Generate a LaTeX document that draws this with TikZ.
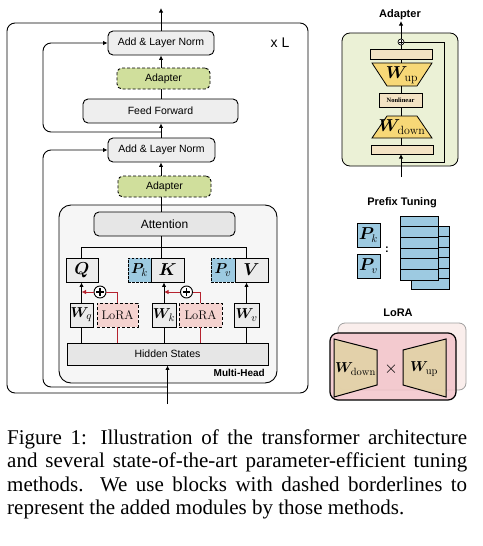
\documentclass[tikz,border=0pt]{standalone}
\usepackage{fontspec}
\usepackage{amsmath,bm}
\usetikzlibrary{arrows.meta}
\newfontfamily\hel{Liberation Sans}
\newfontfamily\tms{Liberation Serif}
\definecolor{boxgray}{HTML}{EEEEEE}
\definecolor{attgray}{HTML}{E6E6E6}
\definecolor{sqgray}{HTML}{EBEBEB}
\definecolor{mhgray}{HTML}{F6F6F6}
\definecolor{adgreen}{HTML}{D0DF9C}
\definecolor{lpink}{HTML}{F5D3D0}
\definecolor{pblue}{HTML}{9DCAE1}
\definecolor{apgreen}{HTML}{EBF1D6}
\definecolor{beige}{HTML}{F3E3C4}
\definecolor{ayellow}{HTML}{F7D877}
\definecolor{lorafr}{HTML}{F2C4CA}
\definecolor{lorabk}{HTML}{FAEEEC}
\definecolor{ltan}{HTML}{E2D2A6}
\definecolor{myred}{HTML}{B5232F}
\begin{document}
\begin{tikzpicture}[x=1pt,y=-1pt,
  ln/.style={line width=0.9pt},
  arr/.style={line width=0.9pt,-{Latex[length=4.5pt,width=4.5pt]}},
  rarr/.style={line width=0.9pt,draw=myred,-{Latex[length=4.5pt,width=4.5pt]}},
  gbox/.style={draw,line width=0.9pt,rounded corners=5pt,fill=boxgray,inner sep=0pt,
     font=\hel\fontsize{10.5}{12}\selectfont,minimum height=24pt},
  adbox/.style={gbox,dash pattern=on 3pt off 2pt,fill=adgreen,minimum height=21pt},
  sq/.style={draw,line width=0.9pt,fill=sqgray,inner sep=0pt,minimum height=24pt,
     font=\fontsize{15}{16}\selectfont},
  pbox/.style={sq,dash pattern=on 2.5pt off 1.5pt,fill=pblue},
  lbox/.style={sq,dash pattern=on 3pt off 2pt,fill=lpink,font=\fontsize{12.5}{14}\selectfont},
  plus/.style={circle,draw,line width=0.9pt,fill=white,minimum size=12pt,inner sep=0pt},
  ttl/.style={font=\hel\bfseries\fontsize{11}{13}\selectfont,inner sep=0pt},
  captxt/.style={anchor=base west,inner sep=0pt,font=\tms\fontsize{21}{23}\selectfont},
  abar/.style={draw,line width=0.8pt,fill=beige,inner sep=0pt},
  trap/.style={draw,line width=0.8pt,fill=ayellow},
  ltrap/.style={draw,line width=1pt,fill=ltan,fill opacity=0.9}
]
\useasboundingbox (0,0) rectangle (482,546);

% ---------- transformer block ----------
\draw[line width=0.9pt,rounded corners=8pt] (7,23) rectangle (308,393);
\draw[line width=0.9pt,rounded corners=12pt,fill=mhgray] (59,205) rectangle (277,383);

\coordinate (col) at (161,0);
\node[gbox,minimum width=106pt] (an1) at (161,43) {Add \& Layer Norm};
\node[adbox,minimum width=93pt] (ad1) at (163.5,78.5) {Adapter};
\node[gbox,minimum width=155pt] (ff) at (160.5,111) {Feed Forward};
\node[gbox,minimum width=107pt] (an2) at (161.5,150) {Add \& Layer Norm};
\node[adbox,minimum width=93pt] (ad2) at (164.5,186.5) {Adapter};
\node[gbox,fill=attgray,minimum width=141pt,font=\hel\fontsize{12}{14}\selectfont] (att) at (164.5,224) {Attention};
\node[font=\hel\fontsize{14}{16}\selectfont,inner sep=0pt] (xl) at (280,43) {x L};
\node[font=\hel\bfseries\fontsize{10}{12}\selectfont,inner sep=0pt,anchor=east] (mh) at (265,373) {Multi-Head};

\node[sq,minimum width=32pt,font=\fontsize{16}{17}\selectfont] (q) at (82,270) {$\bm{Q}$};
\node[pbox,minimum width=23pt] (pk) at (139.5,270) {$\bm{P}_{k}$};
\node[sq,minimum width=33pt,font=\fontsize{16}{17}\selectfont] (k) at (167.5,270) {$\bm{K}$};
\node[pbox,minimum width=24pt] (pv) at (223,270) {$\bm{P}_{v}$};
\node[sq,minimum width=33pt,font=\fontsize{16}{17}\selectfont] (v) at (251.5,270) {$\bm{V}$};

\node[sq,minimum width=23pt] (wq) at (81.5,315) {$\bm{W}_{q}$};
\node[lbox,minimum width=41pt] (lo1) at (117.5,315) {LoRA};
\node[sq,minimum width=24pt] (wk) at (164,315) {$\bm{W}_{k}$};
\node[lbox,minimum width=43pt] (lo2) at (200.5,315) {LoRA};
\node[sq,minimum width=25pt] (wv) at (246.5,315) {$\bm{W}_{v}$};
\node[sq,fill=attgray,minimum width=201pt,minimum height=22pt,font=\hel\fontsize{10.5}{12}\selectfont] (hs) at (167.5,354) {Hidden States};

\node[plus] (p1) at (100,292) {};
\node[plus] (p2) at (186.5,292) {};
\foreach \p in {p1,p2}{
  \draw[line width=1.2pt] (\p.center) ++(-3.6,0) -- ++(7.2,0);
  \draw[line width=1.2pt] (\p.center) ++(0,-3.6) -- ++(0,7.2);
}

% main column
\draw[arr] (col |- an1.north) -- (161,8);
\draw[arr] (col |- ad1.north) -- (col |- an1.south);
\draw[ln] (col |- ff.north) -- (col |- ad1.south);
\draw[arr] (col |- an2.north) -- (col |- ff.south);
\draw[arr] (col |- ad2.north) -- (col |- an2.south);
\draw[ln] (col |- att.north) -- (col |- ad2.south);
\coordinate (rb1) at (161,132);
\draw[arr,rounded corners=8pt] (rb1) -- (43,132) -- (43,43) -- (an1.west);
\coordinate (in) at (167.5,404);
\coordinate (br) at (167.5,387);
\draw[arr] (in) -- (hs.south);
\draw[arr,rounded corners=8pt] (br) -- (43,387) -- (43,150) -- (an2.west);

% attention fan-out
\coordinate (hbar) at (0,247);
\draw[ln] (col |- att.south) -- (col |- k.north);
\draw[ln] (wq |- q.north) -- (wq |- hbar) -- (wv |- hbar) -- (wv |- v.north);

% projections
\draw[ln] (wq |- hs.north) -- (wq.south);
\draw[arr] (wq.north) -- (wq |- q.south);
\draw[ln] (wk |- hs.north) -- (wk.south);
\draw[arr] (wk.north) -- (wk |- k.south);
\draw[ln] (wv |- hs.north) -- (wv.south);
\draw[arr] (wv.north) -- (wv |- v.south);

% LoRA branches
\draw[ln,myred] (lo1 |- hs.north) -- (lo1.south);
\draw[ln,myred] (lo1.north) |- (p1.east);
\draw[rarr] (p1.west) -- (wq |- p1);
\draw[ln,myred] (lo2 |- hs.north) -- (lo2.south);
\draw[ln,myred] (lo2.north) |- (p2.east);
\draw[rarr] (p2.west) -- (wk |- p2);

% ---------- Adapter panel ----------
\node[ttl] (tad) at (400,15) {Adapter};
\draw[line width=0.8pt,rounded corners=8pt,fill=apgreen] (342,33) rectangle (458,166);
\node[circle,draw,line width=0.7pt,fill=white,minimum size=6pt,inner sep=0pt] (apl) at (401,42) {};
\draw[line width=0.6pt] (apl.center) ++(-2,0) -- ++(4,0);
\draw[line width=0.6pt] (apl.center) ++(0,-2) -- ++(0,4);
\node[abar,minimum width=62pt,minimum height=10pt] (atop) at (401,54) {};
\draw[trap] (372,63) -- (432,63) -- (417,86) -- (387,86) -- cycle;
\node[inner sep=0pt,font=\fontsize{17}{18}\selectfont] (wupl) at (402,75) {$\bm{W}_{\mathrm{up}}$};
\node[abar,minimum width=43pt,minimum height=14pt,font=\tms\bfseries\fontsize{6.5}{7}\selectfont] (nl) at (400.5,100) {Nonlinear};
\draw[trap] (387,116) -- (417,116) -- (432,138) -- (372,138) -- cycle;
\node[inner sep=0pt,font=\fontsize{17}{18}\selectfont] (wdnl) at (402,127) {$\bm{W}_{\mathrm{down}}$};
\node[abar,minimum width=62pt,minimum height=9pt] (abot) at (402,149.5) {};
\coordinate (ain) at (401,177);
\coordinate (abr) at (401,162);
\draw[arr] (ain) -- (401,154);
\draw[line width=0.7pt] (abr) -- (444,162) -- (444,42) -- (apl.east);
\draw[line width=0.8pt] (401,145) -- (401,138) (401,116) -- (401,107) (401,93) -- (401,86) (401,63) -- (401,59) (401,49) -- (apl.south);
\draw[arr] (apl.north) -- (401,21);

% ---------- Prefix tuning panel ----------
\node[ttl] (tpf) at (402,203) {Prefix Tuning};
\node[sq,fill=pblue,minimum width=23pt,font=\fontsize{16}{17}\selectfont] (ppk) at (368.5,235) {$\bm{P}_{k}$};
\node[sq,fill=pblue,minimum width=23pt,font=\fontsize{16}{17}\selectfont] (ppv) at (368.5,266) {$\bm{P}_{v}$};
\node[inner sep=0pt,font=\hel\bfseries\fontsize{11}{12}\selectfont] (colon) at (387,250) {:};
\foreach \i in {0,...,5}{
  \draw[line width=0.9pt,fill=pblue] (411,{226+\i*10.55}) rectangle ++(38,10.55);
}
\foreach \i in {0,...,5}{
  \draw[line width=0.9pt,fill=pblue] (400,{216+\i*10.67}) rectangle ++(38,10.67);
}

% ---------- LoRA panel ----------
\node[ttl] (tlr) at (398,313) {LoRA};
\draw[line width=0.8pt,draw=gray!75,rounded corners=7pt,fill=lorabk] (338,323) rectangle (466,390);
\draw[line width=1.2pt,rounded corners=8pt,fill=lorafr,fill opacity=0.85] (330,333) rectangle (456,400);
\draw[ltrap] (334,339) -- (377,350) -- (377,385) -- (334,397) -- cycle;
\draw[ltrap] (403,350) -- (446,339) -- (446,397) -- (403,385) -- cycle;
\node[inner sep=0pt,font=\fontsize{15}{16}\selectfont] (lwd) at (355.5,369) {$\bm{W}_{\mathrm{down}}$};
\node[inner sep=0pt,font=\fontsize{15}{16}\selectfont] (lwu) at (424,369) {$\bm{W}_{\mathrm{up}}$};
\node[inner sep=0pt,font=\fontsize{17}{18}\selectfont] (tim) at (391,369) {$\times$};

% ---------- caption ----------
\node[captxt] (c1) at (7,444) {\makebox[460pt][s]{Figure 1: Illustration of the transformer architecture}};
\node[captxt] (c2) at (7,467.5) {\makebox[460pt][s]{and several state-of-the-art parameter-efficient tuning}};
\node[captxt] (c3) at (7,491) {\makebox[460pt][s]{methods. We use blocks with dashed borderlines to}};
\node[captxt] (c4) at (7,514.5) {represent the added modules by those methods.};
\end{tikzpicture}
\end{document}
